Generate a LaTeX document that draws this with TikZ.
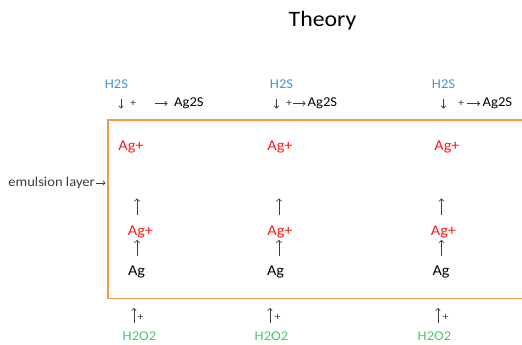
\documentclass[tikz,border=0pt]{standalone}
\usepackage{fontspec}
\setmainfont[FakeStretch=1.08]{Carlito}
\usetikzlibrary{arrows.meta}
\definecolor{boxorange}{RGB}{247,150,70}
\definecolor{hblue}{RGB}{70,150,215}
\definecolor{hgreen}{RGB}{70,200,110}
\definecolor{agred}{RGB}{255,25,25}
\definecolor{arrgray}{RGB}{60,60,60}
\tikzset{
  lbl/.style={inner sep=0pt, font=\fontsize{13.5}{15}\selectfont},
  hs/.style={lbl, text=hblue},
  ho/.style={lbl, text=hgreen},
  agp/.style={inner sep=0pt, font=\fontsize{15}{17}\selectfont, text=agred},
  ag/.style={inner sep=0pt, font=\fontsize{15}{17}\selectfont, text=black},
  pl/.style={inner sep=0pt, font=\fontsize{11}{12}\selectfont, text=arrgray},
  ua/.style={draw=arrgray, line width=0.6pt, -{Straight Barb[length=2.6pt,width=5.5pt]}},
  sa/.style={draw=arrgray, line width=0.6pt, -{Straight Barb[length=2.2pt,width=4.5pt]}},
}
\begin{document}
\begin{tikzpicture}[x=1pt,y=-1pt]
\useasboundingbox (0,0) rectangle (522,345);
\node[inner sep=0pt, font=\fontsize{22}{24}\selectfont] (title) at (322.5,21) {Theory};
% box
\draw[boxorange, line width=1.8pt] (522,120) -- (108,120) -- (108,298.5) -- (522,298.5);
\node[lbl, anchor=east, text=arrgray] (emul) at (95,183) {emulsion layer};
\coordinate (emA) at (95.5,183);
\coordinate (emB) at (105.5,183);
\draw[sa] (emA) -- (emB);
% ---------- column 1
\node[hs] (h1) at (116.5,84) {H2S};
\coordinate (d1a) at (121,98.5); \coordinate (d1b) at (121,108.5);
\draw[sa] (d1a) -- (d1b);
\node[pl] (p1) at (133,103.5) {+};
\coordinate (r1a) at (155,103.5); \coordinate (r1b) at (167.5,103.5);
\draw[sa] (r1a) -- (r1b);
\node[lbl, anchor=west] (s1) at (174,103.5) {Ag2S};
\node[agp] (t1) at (131,146.5) {Ag+};
\coordinate (u1a) at (137,214.5); \coordinate (u1b) at (137,198.5);
\draw[ua] (u1a) -- (u1b);
\node[agp] (m1) at (140.5,231.5) {Ag+};
\coordinate (v1a) at (137,256); \coordinate (v1b) at (137,240);
\draw[ua] (v1a) -- (v1b);
\node[ag] (a1) at (136.5,272) {Ag};
\coordinate (w1a) at (134,322.5); \coordinate (w1b) at (134,308);
\draw[sa] (w1a) -- (w1b);
\node[pl] (q1) at (140.5,317) {+};
\node[ho] (o1) at (139.5,336) {H2O2};
% ---------- column 2
\node[hs] (h2) at (281.5,84) {H2S};
\coordinate (d2a) at (276.5,98.5); \coordinate (d2b) at (276.5,108.5);
\draw[sa] (d2a) -- (d2b);
\node[pl] (p2) at (289,103.5) {+};
\coordinate (r2a) at (293,103.5); \coordinate (r2b) at (305.5,103.5);
\draw[sa] (r2a) -- (r2b);
\node[lbl, anchor=west] (s2) at (307.5,103.5) {Ag2S};
\node[agp] (t2) at (280,146.5) {Ag+};
\coordinate (u2a) at (279,214.5); \coordinate (u2b) at (279,198.5);
\draw[ua] (u2a) -- (u2b);
\node[agp] (m2) at (280,231.5) {Ag+};
\coordinate (v2a) at (279,256); \coordinate (v2b) at (279,240);
\draw[ua] (v2a) -- (v2b);
\node[ag] (a2) at (275.5,272) {Ag};
\coordinate (w2a) at (270,322.5); \coordinate (w2b) at (270,308);
\draw[sa] (w2a) -- (w2b);
\node[pl] (q2) at (277.5,317) {+};
\node[ho] (o2) at (271.5,336) {H2O2};
% ---------- column 3
\node[hs] (h3) at (443.5,84) {H2S};
\coordinate (d3a) at (443.5,98.5); \coordinate (d3b) at (443.5,108.5);
\draw[sa] (d3a) -- (d3b);
\node[pl] (p3) at (461,103.5) {+};
\coordinate (r3a) at (467,103.5); \coordinate (r3b) at (480,103.5);
\draw[sa] (r3a) -- (r3b);
\node[lbl, anchor=west] (s3) at (482.5,103.5) {Ag2S};
\node[agp] (t3) at (447,146.5) {Ag+};
\coordinate (u3a) at (441.5,214.5); \coordinate (u3b) at (441.5,198.5);
\draw[ua] (u3a) -- (u3b);
\node[agp] (m3) at (443.5,231.5) {Ag+};
\coordinate (v3a) at (441.5,256); \coordinate (v3b) at (441.5,240);
\draw[ua] (v3a) -- (v3b);
\node[ag] (a3) at (441,272) {Ag};
\coordinate (w3a) at (438,322.5); \coordinate (w3b) at (438,308);
\draw[sa] (w3a) -- (w3b);
\node[pl] (q3) at (445.5,317) {+};
\node[ho] (o3) at (434.5,336) {H2O2};
\end{tikzpicture}
\end{document}
